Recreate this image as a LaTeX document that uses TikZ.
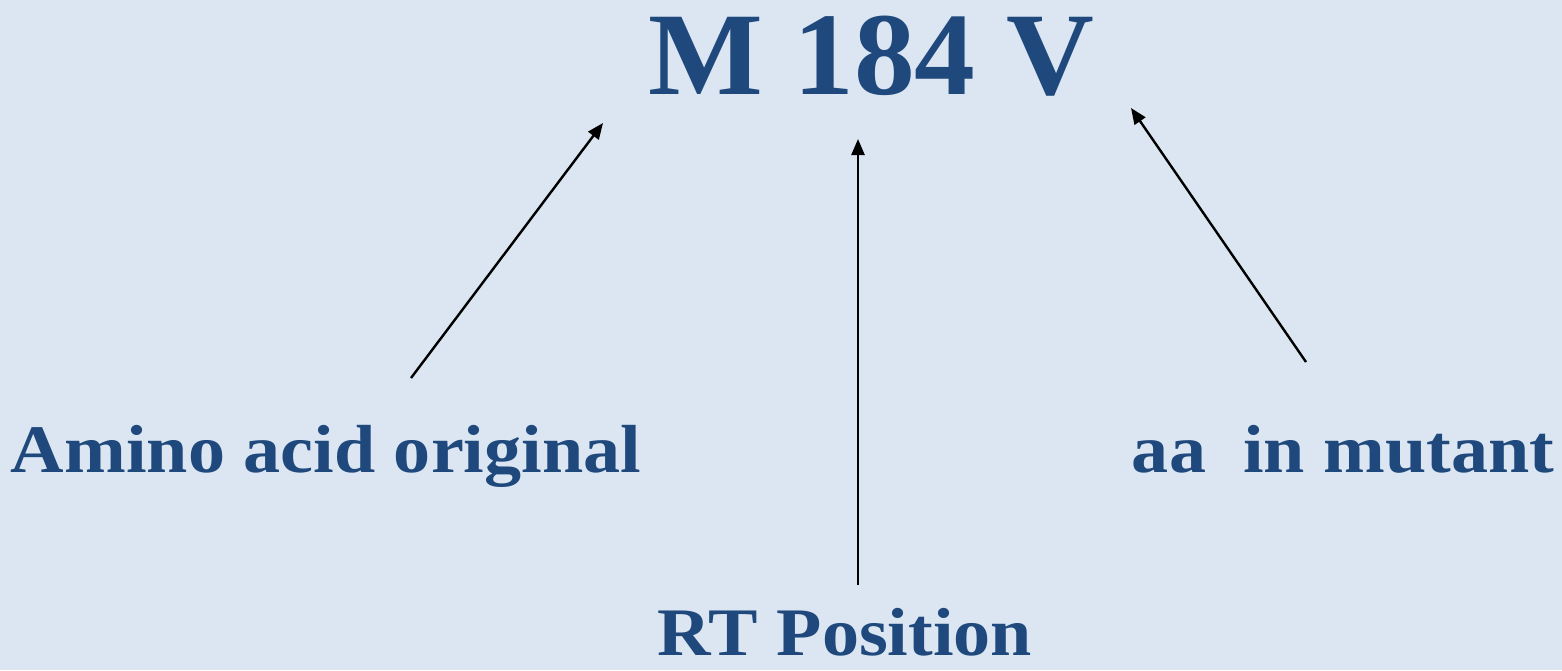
\documentclass[tikz,border=0pt]{standalone}
\usepackage{fontspec}
\setmainfont{Liberation Serif}
\usetikzlibrary{arrows.meta}
\definecolor{bg}{HTML}{DCE6F2}
\definecolor{txt}{HTML}{1F497D}
\newcommand{\wide}[1]{\scalebox{1.09}[1]{#1}}
\tikzset{
  lbl/.style={anchor=base, inner sep=0pt, text=txt, font=\bfseries\fontsize{68}{78}\selectfont},
  big/.style={anchor=base, inner sep=0pt, text=txt, font=\bfseries\fontsize{118}{124}\selectfont},
  arr/.style={-{Triangle[length=16pt,width=13pt]}, line width=2.4pt, black}
}
\begin{document}
\begin{tikzpicture}[x=1pt,y=-1pt]
\fill[bg] (0,0) rectangle (1562,670);
\useasboundingbox (0,0) rectangle (1562,670);
\node[big] (code) at (871,94) {\scalebox{1.03}[1]{M 184 V}};
\node[lbl] (orig) at (326,472) {\wide{Amino acid original}};
\node[lbl] (mut) at (1343,472) {\wide{aa\ \ in mutant}};
\node[lbl] (pos) at (845,655) {\wide{RT Position}};
\coordinate (o1) at (411,378);
\coordinate (o2) at (603,123);
\coordinate (p1) at (858,585);
\coordinate (p2) at (858,139);
\coordinate (m1) at (1306,362);
\coordinate (m2) at (1131,108);
\draw[arr] (o1) -- (o2);
\draw[arr] (p1) -- (p2);
\draw[arr] (m1) -- (m2);
\end{tikzpicture}
\end{document}
